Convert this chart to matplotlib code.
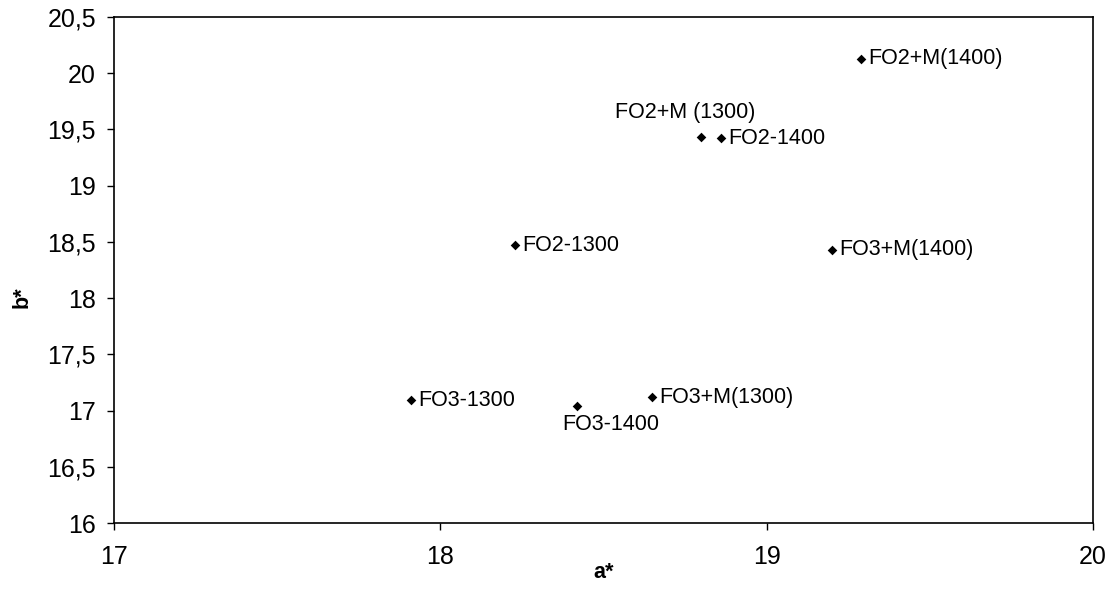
import matplotlib
matplotlib.use("Agg")
import matplotlib.pyplot as plt
from matplotlib.ticker import FuncFormatter, MultipleLocator

plt.rcParams['font.family'] = ['Liberation Sans', 'DejaVu Sans']

labels = ["FO2+M(1400)", "FO2+M (1300)", "FO2-1400", "FO2-1300",
          "FO3+M(1400)", "FO3-1300", "FO3-1400", "FO3+M(1300)"]
a_star = [19.29, 18.80, 18.86, 18.23, 19.20, 17.91, 18.42, 18.65]
b_star = [20.13, 19.43, 19.42, 18.47, 18.43, 17.09, 17.04, 17.12]

# label offsets in points (x, y) and alignment
offsets = {
    "FO2+M (1300)": ((-12, 18), "center", "center"),
    "FO3-1400": ((24, -13), "center", "center"),
}

fig = plt.figure(figsize=(11.1, 6.1), dpi=100)
ax = fig.add_axes([0.1027, 0.1426, 0.882, 0.8295])

ax.scatter(a_star, b_star, marker='D', s=24, color='black', zorder=3, linewidths=0)

for lab, x, y in zip(labels, a_star, b_star):
    if lab in offsets:
        (dx, dy), ha, va = offsets[lab]
    else:
        dx, dy, ha, va = 5, 0, "left", "center"
    ax.annotate(lab, (x, y), xytext=(dx, dy), textcoords='offset points',
                ha=ha, va=va, fontsize=15.5, color='black')

ax.set_xlim(17, 20)
ax.set_ylim(16, 20.5)
ax.xaxis.set_major_locator(MultipleLocator(1))
ax.yaxis.set_major_locator(MultipleLocator(0.5))

def comma(v, pos):
    s = f"{v:g}"
    return s.replace('.', ',')

ax.yaxis.set_major_formatter(FuncFormatter(comma))
ax.xaxis.set_major_formatter(FuncFormatter(comma))

ax.tick_params(axis='both', direction='out', length=5, width=1, labelsize=18, colors='black')
ax.tick_params(axis='x', pad=11)
ax.tick_params(axis='y', pad=8)

for sp in ax.spines.values():
    sp.set_color('black')
    sp.set_linewidth(1.2)

ax.set_xlabel("a*", fontsize=15.5, fontweight='bold', va='center')
ax.set_ylabel("b*", fontsize=15.5, fontweight='bold', va='center', ha='center')
ax.xaxis.set_label_coords(0.5, -0.097)
ax.yaxis.set_label_coords(-0.094, 0.447)

fig.savefig("out.png", dpi=100, facecolor='white')
